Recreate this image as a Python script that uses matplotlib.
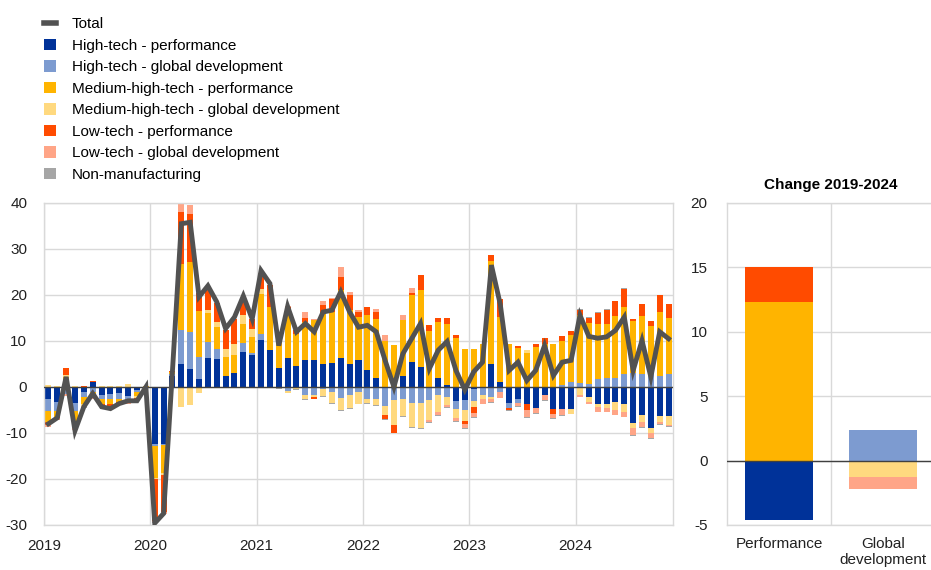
import numpy as np
import matplotlib
matplotlib.use("Agg")
import matplotlib.pyplot as plt
from matplotlib.lines import Line2D
from matplotlib.patches import Patch

plt.rcParams['font.family'] = ['Liberation Sans', 'DejaVu Sans']
plt.rcParams['axes.unicode_minus'] = False

# --- monthly contributions, Jan 2019 - Nov 2024 (71 months) ---
ht_perf = [-2.5, -3.3, 0.3, -3.5, -1.1, 1.0, -1.8, -1.5, -1.4, -2.0, -0.7, -0.2,
           -12.3, -12.3, 2.5, 5.1, 4.0, 1.8, 6.2, 6.0, 2.5, 3.0, 7.6, 7.0,
           10.3, 8.1, 4.2, 6.2, 4.6, 5.9, 5.9, 5.1, 5.3, 6.2, 4.9, 5.9,
           3.8, 1.9, 0.0, 0.0, 2.3, 5.4, 4.3, 0.0, 2.0, 0.4, -3.1, -2.8,
           -0.5, 0.0, 5.1, 1.1, -3.4, -2.7, -3.8, -4.5, -1.7, -4.7, -4.7, -4.7,
           -0.2, -2.2, -3.6, -3.6, -3.3, -3.8, -7.8, -6.0, -8.9, -6.3, -6.3]
ht_glob = [-2.8, -2.0, -1.5, -1.8, -1.1, -1.1, -0.9, -1.1, -1.2, -0.5, -0.3, 0.0,
           -0.5, -0.4, 0.3, 7.2, 8.0, 4.7, 3.6, 2.2, 0.0, 0.0, 2.0, 0.3,
           1.2, 0.0, -0.3, -0.8, -0.3, -1.8, -1.7, -0.5, -1.1, -2.4, -1.7, -1.1,
           -2.7, -2.7, -4.1, -2.9, -2.5, -3.4, -3.4, -2.9, -1.8, -2.2, -1.7, -2.3,
           -2.5, -1.7, -2.2, -1.1, -1.2, -0.7, 0.0, 0.0, 0.0, 0.0, 0.4, 1.1,
           0.9, 0.7, 1.8, 2.0, 2.0, 2.9, 3.1, 2.9, 2.9, 2.5, 2.9]
mht_perf = [-2.3, -1.2, 1.8, -2.8, -1.6, -1.1, -0.9, -1.2, -0.6, -0.6, -1.0, 0.2,
            -7.0, -6.0, 0.5, 14.5, 15.2, 10.1, 6.2, 4.9, 4.0, 4.0, 4.0, 3.6,
            8.7, 9.3, 5.5, 9.6, 7.0, 8.2, 8.6, 10.9, 11.0, 14.9, 11.8, 9.3,
            11.8, 12.9, 10.1, 9.2, 12.2, 14.5, 16.7, 12.2, 12.2, 13.4, 10.7, 8.3,
            8.3, 9.4, 22.3, 14.1, 9.4, 8.5, 7.5, 8.7, 9.4, 9.3, 9.6, 10.1,
            14.7, 13.2, 11.8, 11.8, 13.5, 14.5, 11.2, 12.5, 10.3, 13.8, 12.2]
mht_glob = [0.4, 0.3, 0.6, 0.2, -0.3, -0.2, 0.3, 0.3, 0.3, 0.6, -0.3, 0.0,
            -0.3, -0.5, 0.0, -4.3, -4.0, -1.3, 0.7, 1.1, 1.7, 2.4, 2.1, 1.8,
            1.1, 0.0, 0.0, -0.4, -0.2, -0.9, -0.5, -1.5, -2.3, -2.7, -2.8, -2.5,
            -0.7, -1.2, -1.9, -5.4, -3.8, -5.3, -5.6, -4.3, -3.6, -1.8, -2.0, -2.2,
            -1.3, -1.0, -0.5, 0.0, 0.0, 0.0, 0.5, 0.0, 0.0, 0.0, 0.0, -1.1,
            -1.5, -1.1, -0.7, -0.9, -1.6, -1.6, -1.2, -1.6, -1.0, -1.4, -1.9]
lt_perf = [-0.6, -0.3, 1.5, -0.7, 0.3, 0.2, -0.4, -0.5, -0.4, -0.3, -0.2, 0.0,
           -9.0, -8.0, 0.2, 11.2, 10.5, 3.8, 5.0, 4.0, 4.3, 5.4, 3.5, 2.0,
           3.0, 4.7, 0.3, 1.5, 0.7, 0.9, -0.3, 1.8, 2.8, 2.9, 3.3, 1.1,
           1.8, 1.4, -1.0, -1.6, 0.0, 0.6, 3.3, 1.3, 0.8, 1.3, 0.6, -0.7,
           -1.4, 0.0, 1.4, 4.0, -0.5, 0.4, -1.1, 0.6, 1.2, -1.1, 1.0, 0.9,
           1.2, 1.2, 2.5, 3.0, 3.2, 4.0, 0.5, 2.7, 1.1, 3.8, 3.0]
lt_glob = [-0.4, -0.3, -0.5, -0.5, -0.3, -0.2, -0.3, -0.3, -0.3, -0.3, -0.2, 0.0,
           -0.3, -0.3, 0.0, 2.0, 1.8, 0.0, 0.0, 0.0, 0.0, 0.0, 0.0, 0.0,
           0.5, 0.0, 0.0, 0.3, 0.0, 1.4, 0.3, 0.9, 0.3, 2.0, 0.7, 0.4,
           0.0, 0.7, 1.1, 0.0, 1.2, 1.0, 0.0, -0.4, -0.7, -0.4, -0.6, -0.9,
           -0.9, -0.9, -0.6, -1.3, 0.0, -0.7, -1.6, -1.1, -1.2, -0.9, -1.4, 0.0,
           -0.5, -0.5, -1.1, -0.9, -1.2, -1.1, -1.4, -1.1, -1.2, -0.4, -0.3]
non_manuf = [-0.2, -0.1, 0.0, -0.1, -0.1, 0.0, -0.1, -0.1, -0.1, -0.1, 0.0, 0.0,
             -0.1, -0.1, 0.0, 0.0, 0.0, 0.0, 0.0, 0.0, 0.0, 0.0, 0.0, 0.0,
             0.0, -0.1, -0.1, -0.1, -0.1, -0.2, -0.1, -0.1, -0.2, -0.2, -0.2, -0.2,
             -0.2, -0.2, -0.2, -0.2, -0.2, -0.2, -0.2, -0.2, -0.2, -0.2, -0.2, -0.2,
             -0.2, -0.1, -0.1, -0.1, -0.2, -0.2, -0.2, -0.2, -0.1, -0.2, -0.2, -0.1,
             0.1, 0.1, 0.1, 0.1, 0.1, 0.1, -0.2, -0.2, -0.2, -0.2, -0.2]
total = [-8.0, -6.7, 2.2, -9.5, -4.3, -1.4, -4.3, -4.7, -3.6, -3.0, -3.0, 0.0,
         -29.6, -27.5, 3.5, 35.5, 35.8, 19.6, 22.0, 18.5, 12.7, 15.2, 19.8, 14.8,
         25.3, 22.5, 9.0, 17.5, 12.0, 13.8, 12.0, 16.3, 16.7, 20.7, 16.3, 13.0,
         13.4, 12.0, 5.8, 0.0, 7.2, 10.5, 13.8, 4.0, 8.0, 9.9, 3.6, -0.6,
         3.3, 5.4, 26.5, 18.0, 3.6, 5.4, 1.4, 3.6, 9.0, 2.5, 5.4, 5.8,
         15.6, 11.0, 10.6, 10.9, 12.3, 15.2, 3.6, 10.1, 2.2, 12.0, 10.5]

# --- change 2019-2024 ---
change_cats = ['Performance', 'Global\ndevelopment']
chg_ht_perf = [-4.6, 0.0]
chg_ht_glob = [0.0, 2.4]
chg_mht_perf = [12.3, 0.0]
chg_mht_glob = [0.0, -1.3]
chg_lt_perf = [2.7, 0.0]
chg_lt_glob = [0.0, -0.9]
chg_non_manuf = [0.0, 0.0]

labels = ['High-tech - performance', 'High-tech - global development',
          'Medium-high-tech - performance', 'Medium-high-tech - global development',
          'Low-tech - performance', 'Low-tech - global development',
          'Non-manufacturing']
colors = ['#003299', '#7d9bd0', '#ffb400', '#ffd97f', '#ff4b00', '#ffa587', '#a6a6a6']
grid_col = '#d9d9d9'


def stacked(ax, x, series, width):
    pos = np.zeros(len(x))
    neg = np.zeros(len(x))
    for vals, col in zip(series, colors):
        v = np.array(vals, dtype=float)
        bottom = np.where(v >= 0, pos, neg)
        ax.bar(x, v, width=width, bottom=bottom, color=col, linewidth=0, zorder=2)
        pos = pos + np.where(v > 0, v, 0)
        neg = neg + np.where(v < 0, v, 0)


def style(ax):
    ax.tick_params(length=0, labelsize=11, colors='#222222')
    for s in ax.spines.values():
        s.set_color(grid_col)
        s.set_linewidth(1)
    ax.grid(True, color=grid_col, linewidth=1, zorder=0)
    ax.set_axisbelow(True)
    ax.axhline(0, color='#404040', linewidth=1, zorder=3)


fig = plt.figure(figsize=(9.31, 5.70), dpi=100)

# left panel
ax = fig.add_axes([44 / 931, 45 / 570, 629 / 931, 322 / 570])
n = len(total)
xm = 2019 + (np.arange(n) + 0.5) / 12
stacked(ax, xm, [ht_perf, ht_glob, mht_perf, mht_glob, lt_perf, lt_glob, non_manuf], 0.68 / 12)
ax.plot(xm, total, color='#525252', linewidth=3.5, zorder=4, solid_joinstyle='miter')
ax.set_xlim(2019, 2019 + n / 12)
ax.set_ylim(-30, 40)
ax.set_yticks(range(-30, 41, 10))
ax.set_xticks(range(2019, 2025))
ax.set_xticklabels([str(y) for y in range(2019, 2025)])
style(ax)
ax.tick_params(axis='y', pad=12)
ax.tick_params(axis='x', pad=10)

# right panel
ax2 = fig.add_axes([727 / 931, 45 / 570, 208 / 931, 322 / 570])
xc = np.arange(len(change_cats))
stacked(ax2, xc, [chg_ht_perf, chg_ht_glob, chg_mht_perf, chg_mht_glob,
                  chg_lt_perf, chg_lt_glob, chg_non_manuf], 0.66)
ax2.set_xlim(-0.5, 1.5)
ax2.set_ylim(-5, 20)
ax2.set_yticks(range(-5, 21, 5))
ax2.set_xticks([0.5], minor=False)
ax2.set_xticklabels([''])
for xi, lab in zip(xc, change_cats):
    ax2.text(xi, -5.95, lab, ha='center', va='top', fontsize=11, color='#222222',
             linespacing=1.2)
style(ax2)
ax2.grid(True, axis='x', color=grid_col)
ax2.tick_params(axis='y', pad=14)
ax2.set_title('Change 2019-2024', fontsize=11, fontweight='bold', pad=10)

# legend
handles = [Line2D([0], [0], color='#525252', linewidth=4)]
handles += [Patch(facecolor=c, edgecolor='none') for c in colors]
fig.legend(handles, ['Total'] + labels, loc='upper left',
           bbox_to_anchor=(38 / 931, 1 - 11 / 570), frameon=False, fontsize=11,
           handlelength=0.8, handleheight=0.8, handletextpad=1.0,
           labelspacing=0.48, borderaxespad=0)

fig.savefig('out.png', dpi=100)
